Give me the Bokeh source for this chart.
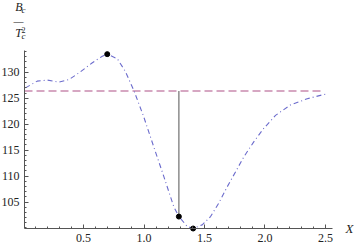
import numpy as np
from bokeh.plotting import figure
from bokeh.models import FixedTicker, Label, Range1d
from bokeh.embed import file_html
from bokeh.resources import INLINE

# ---- data ----
x_vals = [0.02, 0.117, 0.2, 0.296, 0.38, 0.475, 0.57, 0.655, 0.696, 0.78, 0.847,
          0.916, 0.998, 1.081, 1.164, 1.246, 1.288, 1.357, 1.406, 1.481, 1.55,
          1.618, 1.687, 1.756, 1.825, 1.907, 1.99, 2.087, 2.21, 2.349, 2.5]
b_vals = [127.0, 128.3, 128.5, 128.1, 128.6, 130.1, 131.8, 133.1, 133.5, 132.6, 130.1,
          126.5, 121.4, 115.6, 109.9, 104.1, 102.2, 100.3, 99.9, 100.6, 102.2,
          104.8, 107.9, 110.8, 113.7, 116.6, 119.2, 121.7, 123.7, 124.9, 125.8]
level_x = [0.012, 2.473]
level_y = [126.4, 126.4]
vline_x = [1.288, 1.288]
vline_y = [126.4, 102.2]
pts_x = [0.696, 1.288, 1.406]
pts_y = [133.5, 102.2, 99.9]
x_major = [0.5, 1.0, 1.5, 2.0, 2.5]
x_minor = [round(0.1 * i, 1) for i in range(1, 26)]
y_major = [105, 110, 115, 120, 125, 130]
y_minor = list(range(100, 135))

# axis extents (as drawn in the reference)
AX0, AX1 = 0.012, 2.558
AY0, AY1 = 99.9, 134.2

# layout geometry (pixels)
W, H = 354, 246
LEFT = 24            # y-axis position from the left edge
AXIS_Y = 228         # x-axis position from the top edge
XPX = 308.0 / (AX1 - AX0)   # px per x unit
YPX = 178.0 / (AY1 - AY0)   # px per y unit

x_range = Range1d(AX0 - LEFT / XPX, AX0 + (W - LEFT) / XPX)
y_range = Range1d(AY0 - (H - AXIS_Y) / YPX, AY0 + AXIS_Y / YPX)

p = figure(width=W, height=H, output_backend="svg", toolbar_location=None,
           x_range=x_range, y_range=y_range,
           min_border_left=0, min_border_right=0, min_border_top=0,
           min_border_bottom=0)
p.outline_line_color = None
p.grid.visible = False
p.background_fill_color = "white"
p.border_fill_color = "white"

p.xaxis.ticker = FixedTicker(ticks=x_major, minor_ticks=x_minor)
p.yaxis.ticker = FixedTicker(ticks=y_major, minor_ticks=y_minor)
p.xaxis.major_label_overrides = {v: f"{v:.1f}" for v in x_major}
p.xaxis.fixed_location = AY0
p.yaxis.fixed_location = AX0
p.xaxis.bounds = (AX0, AX1)
p.yaxis.bounds = (AY0, AY1)
for ax in (p.xaxis[0], p.yaxis[0]):
    ax.axis_line_color = "#555555"
    ax.axis_line_width = 1
    ax.major_tick_in = 4
    ax.major_tick_out = 0
    ax.minor_tick_in = 2
    ax.minor_tick_out = 0
    ax.major_tick_line_color = "#555555"
    ax.minor_tick_line_color = "#555555"
    ax.major_label_text_font = "Liberation Serif"
    ax.major_label_text_color = "#222222"
    ax.major_label_text_font_size = "12px"
p.xaxis.major_label_standoff = 5
p.yaxis.major_label_standoff = 5

# dashed reference level
p.line(level_x, level_y, line_color="#c98aaf", line_width=1.6, line_dash="8 4")
# vertical gray segment
p.line(vline_x, vline_y, line_color="#8c8c8c", line_width=1.5)
# main dot-dashed curve
p.line(x_vals, b_vals, line_color="#6b6bcc", line_width=1.1, line_dash="5 3 1 3")
# points
p.scatter(pts_x, pts_y, size=5, color="black")

# axis labels (Mathematica style), positioned in page pixels
serif = "Liberation Serif"


def lab(px, py, text, size, italic=True, align="center"):
    p.add_layout(Label(x=AX0 + (px - LEFT) / XPX, y=AY0 + (AXIS_Y - py) / YPX,
                       text=text, text_font=serif,
                       text_font_style="italic" if italic else "normal",
                       text_font_size=size, text_align=align,
                       text_baseline="middle", text_color="#222222"))


lab(349, 228, "X", "13px")
lab(18.3, 6, "B", "12px")
lab(21, 9.5, "c", "9px", align="left")
lab(18, 21, "\u2014", "10px", italic=False)
lab(18.2, 32.5, "T", "12px")
lab(21, 29, "2", "8px", italic=False, align="left")
lab(21, 35.5, "c", "9px", align="left")

open("out.html", "w").write(file_html(p, INLINE))
